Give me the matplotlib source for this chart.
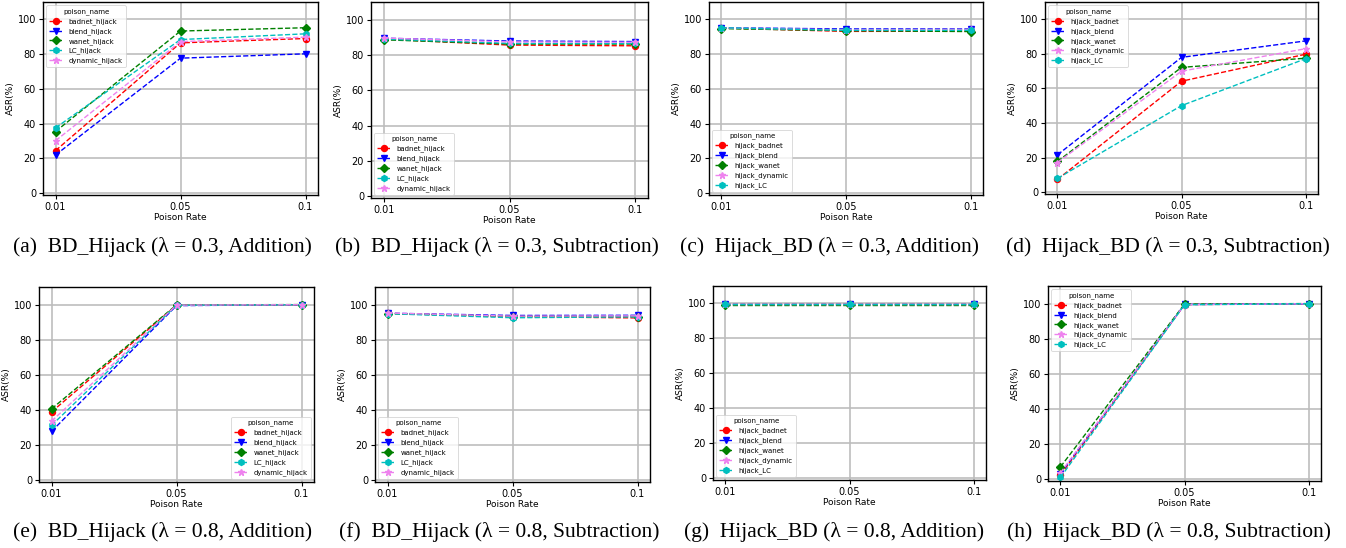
import matplotlib
matplotlib.use("Agg")
import matplotlib.pyplot as plt

W, H = 1346, 548

rates = ["0.01", "0.05", "0.1"]

# BD_Hijack series names (panels a, b, e, f)
bd_names = ["badnet_hijack", "blend_hijack", "wanet_hijack", "LC_hijack", "dynamic_hijack"]
# Hijack_BD series names (panels c, d, g, h)
hb_names = ["hijack_badnet", "hijack_blend", "hijack_wanet", "hijack_dynamic", "hijack_LC"]

# (a) BD_Hijack, lambda=0.3, Addition
a_vals = [[24.5, 86.5, 89.0], [22.0, 77.7, 80.2], [35.5, 93.3, 95.2], [37.6, 88.4, 91.7], [30.2, 87.2, 89.8]]
# (b) BD_Hijack, lambda=0.3, Subtraction
b_vals = [[89.0, 85.6, 85.2], [89.5, 87.9, 87.6], [88.6, 86.2, 86.2], [89.0, 86.6, 86.6], [89.6, 87.4, 87.2]]
# (c) Hijack_BD, lambda=0.3, Addition
c_vals = [[95.0, 93.1, 93.2], [95.2, 94.5, 94.5], [94.7, 93.5, 93.0], [95.1, 94.0, 94.2], [95.2, 93.7, 93.7]]
# (d) Hijack_BD, lambda=0.3, Subtraction
d_vals = [[7.4, 64.2, 79.8], [21.6, 78.0, 87.5], [17.8, 72.2, 77.5], [17.2, 70.0, 83.0], [8.0, 50.1, 77.2]]
# (e) BD_Hijack, lambda=0.8, Addition
e_vals = [[38.9, 99.6, 99.9], [27.8, 99.4, 99.9], [40.6, 99.8, 100.0], [31.2, 99.6, 99.9], [33.6, 99.7, 99.9]]
# (f) BD_Hijack, lambda=0.8, Subtraction
f_vals = [[95.0, 93.1, 92.4], [95.1, 93.8, 93.9], [94.9, 93.2, 93.2], [94.8, 92.5, 93.0], [95.2, 93.4, 93.6]]
# (g) Hijack_BD, lambda=0.8, Addition
g_vals = [[99.5, 99.5, 99.5], [99.6, 99.6, 99.6], [99.4, 99.4, 99.4], [99.5, 99.5, 99.5], [99.5, 99.5, 99.5]]
# (h) Hijack_BD, lambda=0.8, Subtraction
h_vals = [[2.3, 99.4, 99.9], [3.2, 99.5, 99.9], [7.0, 99.7, 100.0], [3.6, 99.4, 99.9], [1.0, 99.3, 99.9]]

captions = [
    "(a)  BD_Hijack (λ = 0.3, Addition)",
    "(b)  BD_Hijack (λ = 0.3, Subtraction)",
    "(c)  Hijack_BD (λ = 0.3, Addition)",
    "(d)  Hijack_BD (λ = 0.3, Subtraction)",
    "(e)  BD_Hijack (λ = 0.8, Addition)",
    "(f)  BD_Hijack (λ = 0.8, Subtraction)",
    "(g)  Hijack_BD (λ = 0.8, Addition)",
    "(h)  Hijack_BD (λ = 0.8, Subtraction)",
]

bd_colors = ["red", "blue", "green", "c", "violet"]
bd_markers = ["o", "v", "D", "h", "*"]
hb_colors = ["red", "blue", "green", "violet", "c"]
hb_markers = ["o", "v", "D", "*", "h"]

panels = [
    (a_vals, bd_names, bd_colors, bd_markers, "upper left", (43, 2, 318, 195), (162, 247)),
    (b_vals, bd_names, bd_colors, bd_markers, "lower left", (371, 2, 648, 198), (497, 247)),
    (c_vals, hb_names, hb_colors, hb_markers, "lower left", (709, 2, 983, 195), (830, 247)),
    (d_vals, hb_names, hb_colors, hb_markers, "upper left", (1045, 2, 1318, 194), (1168, 247)),
    (e_vals, bd_names, bd_colors, bd_markers, "lower right", (39, 287, 314, 482), (163, 532)),
    (f_vals, bd_names, bd_colors, bd_markers, "lower left", (375, 287, 650, 482), (499, 532)),
    (g_vals, hb_names, hb_colors, hb_markers, "lower left", (713, 286, 986, 480), (834, 532)),
    (h_vals, hb_names, hb_colors, hb_markers, "upper left", (1048, 286, 1321, 481), (1169, 532)),
]

fig = plt.figure(figsize=(W / 100, H / 100), dpi=100)

for i, (vals, names, colors, markers, loc, box, cap) in enumerate(panels):
    l, t, r, b = box
    ax = fig.add_axes([l / W, 1 - b / H, (r - l) / W, (b - t) / H])
    xs = list(range(len(rates)))
    for v, n, c, m in zip(vals, names, colors, markers):
        ms = 5 if m == "*" else (3.8 if m == "D" else 4.3)
        ax.plot(xs, v, linestyle="--", color=c, marker=m, markersize=ms,
                linewidth=1.0, label=n)
    ax.set_xticks(xs)
    ax.set_xticklabels(rates)
    ax.set_ylim(-1, 110)
    ax.set_yticks([0, 20, 40, 60, 80, 100])
    ax.set_xlim(-0.1, 2.1)
    ax.grid(True, color="#bdbdbd", linewidth=1.2)
    ax.set_axisbelow(True)
    ax.tick_params(labelsize=7, length=3, width=0.8, pad=2)
    ax.set_xlabel("Poison Rate", fontsize=6.5, labelpad=1)
    ax.set_ylabel("ASR(%)", fontsize=6.5, labelpad=2)
    for s in ax.spines.values():
        s.set_linewidth(1.0)
    leg = ax.legend(title="poison_name", loc=loc, fontsize=5, title_fontsize=5,
                    frameon=True, borderpad=0.4, labelspacing=0.45, handletextpad=0.8)
    leg.get_frame().set_linewidth(0.6)
    fig.text(cap[0] / W, 1 - cap[1] / H, captions[i], ha="center", va="center",
             fontsize=15.5, family=["Liberation Serif", "DejaVu Serif"])

fig.savefig("out.png", dpi=100)
